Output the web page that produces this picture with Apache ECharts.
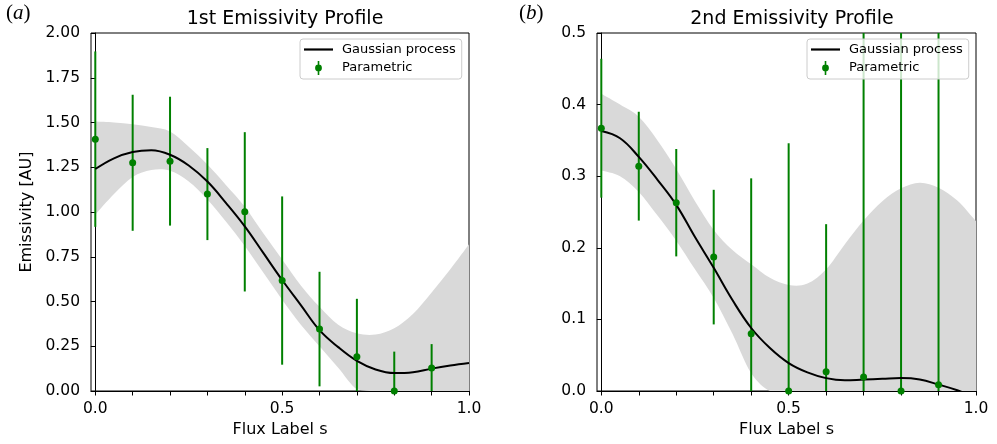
<!DOCTYPE html>
<html>
<head>
<meta charset="utf-8">
<script src="https://cdn.jsdelivr.net/npm/echarts@6/dist/echarts.min.js"></script>
<style>
html, body { margin: 0; padding: 0; background: #fff; }
#chart { width: 997px; height: 444px; }
</style>
</head>
<body>
<div id="chart"></div>
<script>
// flux label grid for the GP curves
const sGrid = [0, 0.05, 0.1, 0.15, 0.2, 0.25, 0.3, 0.35, 0.4, 0.45, 0.5,
  0.55, 0.6, 0.65, 0.7, 0.75, 0.8, 0.85, 0.9, 0.95, 1.0]
// flux labels of the parametric points
const sPts = [0, 0.1, 0.2, 0.3, 0.4, 0.5, 0.6, 0.7, 0.8, 0.9]

// 1st profile
const gpMean1 = [1.24, 1.30, 1.335, 1.345, 1.32, 1.26, 1.17, 1.05, 0.92, 0.77, 0.62,
  0.48, 0.34, 0.245, 0.168, 0.12, 0.10, 0.105, 0.125, 0.142, 0.156]
const gpUpper1 = [1.505, 1.50, 1.49, 1.475, 1.45, 1.365, 1.265, 1.15, 1.03, 0.88, 0.735,
  0.59, 0.47, 0.37, 0.322, 0.315, 0.35, 0.43, 0.55, 0.68, 0.82]
const gpLower1 = [0.985, 1.10, 1.195, 1.234, 1.23, 1.17, 1.07, 0.945, 0.81, 0.66, 0.51,
  0.37, 0.25, 0.13, 0.01, 0, 0, 0, 0, 0, 0]
const par1 = [1.407, 1.275, 1.284, 1.100, 1.001, 0.617, 0.346, 0.191, 0.0, 0.128]
const parErr1 = [0.49, 0.38, 0.36, 0.257, 0.445, 0.47, 0.32, 0.324, 0.22, 0.134]

// 2nd profile
const gpMean2 = [0.363, 0.353, 0.327, 0.295, 0.26, 0.215, 0.172, 0.127, 0.088, 0.06, 0.039,
  0.026, 0.018, 0.015, 0.016, 0.017, 0.018, 0.016, 0.009, 0.001, -0.01]
const gpUpper2 = [0.415, 0.40, 0.383, 0.35, 0.31, 0.265, 0.225, 0.197, 0.177, 0.158, 0.148,
  0.150, 0.170, 0.205, 0.238, 0.265, 0.283, 0.291, 0.284, 0.266, 0.237]
const gpLower2 = [0.308, 0.300, 0.278, 0.245, 0.21, 0.17, 0.13, 0.08, 0.025, 0, 0,
  0, 0, 0, 0, 0, 0, 0, 0, 0, 0]
const par2 = [0.367, 0.314, 0.263, 0.187, 0.080, 0.0, 0.027, 0.0195, 0.0, 0.0088]
const parErr2 = [0.097, 0.076, 0.075, 0.094, 0.217, 0.346, 0.206, 0.62, 0.75, 0.68]

const xTicks = [0, 0.1, 0.2, 0.3, 0.4, 0.5, 0.6, 0.7, 0.8, 0.9, 1.0]
const xLabels = [0, 0.5, 1.0]

const GREEN = '#008000'
const BAND = '#d9d9d9'
const FONT = 'DejaVu Sans'

const chart = echarts.init(document.getElementById('chart'))

function xAxisOpt(gridIndex) {
  return {
    type: 'value',
    gridIndex: gridIndex,
    min: -0.0115,
    max: 1.0,
    name: 'Flux Label s',
    nameLocation: 'middle',
    nameGap: 31,
    nameTextStyle: { color: '#000', fontFamily: FONT, fontSize: 16 },
    axisLine: { show: true, onZero: false, lineStyle: { color: '#000', width: 1 } },
    axisTick: { show: true, length: 4.5, customValues: xTicks, lineStyle: { color: '#000' } },
    axisLabel: {
      customValues: xLabels,
      margin: 10,
      color: '#000',
      fontFamily: FONT,
      fontSize: 15.5,
      formatter: v => v.toFixed(1)
    },
    splitLine: { show: false }
  }
}

function yAxisOpt(gridIndex, max, interval, digits, name) {
  return {
    type: 'value',
    gridIndex: gridIndex,
    min: 0,
    max: max,
    interval: interval,
    name: name,
    nameLocation: 'middle',
    nameGap: 56,
    nameTextStyle: { color: '#000', fontFamily: FONT, fontSize: 16 },
    axisLine: { show: true, lineStyle: { color: '#000', width: 1 } },
    axisTick: { show: true, length: 4.5, lineStyle: { color: '#000' } },
    axisLabel: {
      margin: 11,
      color: '#000',
      fontFamily: FONT,
      fontSize: 15.5,
      formatter: v => v.toFixed(digits)
    },
    splitLine: { show: false }
  }
}

// catmull-rom through pixel points -> bezier path commands (no leading M)
function splinePath(pts, yLimit) {
  let d = ''
  for (let i = 0; i < pts.length - 1; i++) {
    const p0 = pts[Math.max(i - 1, 0)]
    const p1 = pts[i]
    const p2 = pts[i + 1]
    const p3 = pts[Math.min(i + 2, pts.length - 1)]
    const c1x = p1[0] + (p2[0] - p0[0]) / 6
    const c1y = Math.min(p1[1] + (p2[1] - p0[1]) / 6, yLimit)
    const c2x = p2[0] - (p3[0] - p1[0]) / 6
    const c2y = Math.min(p2[1] - (p3[1] - p1[1]) / 6, yLimit)
    d += ' C' + c1x + ',' + c1y + ' ' + c2x + ',' + c2y + ' ' + p2[0] + ',' + p2[1]
  }
  return d
}

// band + mean + error bars + points for one panel
function panelSeries(idx, mean, upper, lower, pts, errs, yMax) {
  const errData = sPts.map((s, i) => [s, pts[i], errs[i]])
  return [
    {
      // confidence band, drawn as one closed path through the axis scales
      type: 'custom',
      xAxisIndex: idx,
      yAxisIndex: idx,
      data: sGrid.map((s, i) => [s, lower[i], upper[i]]),
      silent: true,
      renderItem: function (params, api) {
        if (params.dataIndexInside !== 0) return null
        const n = params.dataInsideLength
        const top = []
        const bot = []
        for (let i = 0; i < n; i++) {
          top.push(api.coord([api.value(0, i), api.value(2, i)]))
          bot.push(api.coord([api.value(0, i), api.value(1, i)]))
        }
        bot.reverse()
        const yLimit = api.coord([0, 0])[1]
        const d = 'M' + top[0][0] + ',' + top[0][1] + splinePath(top, yLimit) +
          ' L' + bot[0][0] + ',' + bot[0][1] + splinePath(bot, yLimit) + ' Z'
        return {
          type: 'path',
          shape: { pathData: d },
          style: { fill: BAND, stroke: null }
        }
      },
      z: 1
    },
    {
      name: 'Parametric',
      type: 'custom',
      xAxisIndex: idx,
      yAxisIndex: idx,
      data: errData,
      renderItem: function (params, api) {
        const x = api.value(0)
        const y = api.value(1)
        const e = api.value(2)
        const p1 = api.coord([x, Math.max(y - e, 0)])
        const p2 = api.coord([x, Math.min(y + e, yMax)])
        return {
          type: 'line',
          shape: { x1: p1[0], y1: p1[1], x2: p2[0], y2: p2[1] },
          style: { stroke: GREEN, lineWidth: 2 }
        }
      },
      z: 3
    },
    {
      name: 'Gaussian process',
      type: 'line',
      xAxisIndex: idx,
      yAxisIndex: idx,
      data: sGrid.map((s, i) => [s, mean[i]]),
      symbol: 'none',
      smooth: 0.4,
      lineStyle: { color: '#000', width: 2 },
      itemStyle: { color: '#000' },
      z: 4
    },
    {
      name: 'Parametric',
      type: 'scatter',
      xAxisIndex: idx,
      yAxisIndex: idx,
      data: sPts.map((s, i) => [s, pts[i]]),
      symbolSize: 7,
      itemStyle: { color: GREEN, opacity: 1 },
      z: 5
    }
  ]
}

const errIcon = 'path://M4.2,0 L5.8,0 L5.8,14 L4.2,14 Z M5,3.6 A3.4,3.4 0 1 1 4.99,3.6 Z'
const lineIcon = 'path://M0,0 L29,0 L29,2.2 L0,2.2 Z'

function legendOpt(left) {
  return {
    left: left,
    top: 39,
    orient: 'vertical',
    padding: [4, 6, 4, 4],
    itemWidth: 29,
    itemHeight: 14,
    itemGap: 5,
    backgroundColor: 'rgba(255,255,255,0.8)',
    borderColor: '#cccccc',
    borderWidth: 1,
    borderRadius: 3,
    selectedMode: false,
    textStyle: { color: '#000', fontFamily: FONT, fontSize: 13, padding: [0, 0, 0, 4] },
    data: [
      { name: 'Gaussian process', icon: lineIcon, itemStyle: { color: '#000' } },
      { name: 'Parametric', icon: errIcon, itemStyle: { color: GREEN } }
    ]
  }
}

const option = {
  animation: false,
  backgroundColor: '#fff',
  title: [
    {
      text: '1st Emissivity Profile',
      left: 280,
      top: 5,
      textAlign: 'center',
      textStyle: { color: '#000', fontFamily: FONT, fontSize: 19, fontWeight: 'normal' }
    },
    {
      text: '2nd Emissivity Profile',
      left: 787,
      top: 5,
      textAlign: 'center',
      textStyle: { color: '#000', fontFamily: FONT, fontSize: 19, fontWeight: 'normal' }
    }
  ],
  graphic: [
    {
      type: 'text',
      left: 6,
      top: 3,
      style: {
        text: '({i|a})',
        font: '21px "Liberation Serif"',
        fill: '#000',
        rich: { i: { fontStyle: 'italic', fontFamily: 'Liberation Serif', fontSize: 21 } }
      }
    },
    {
      type: 'text',
      left: 519,
      top: 3,
      style: {
        text: '({i|b})',
        font: '21px "Liberation Serif"',
        fill: '#000',
        rich: { i: { fontStyle: 'italic', fontFamily: 'Liberation Serif', fontSize: 21 } }
      }
    }
  ],
  grid: [
    { left: 91, top: 33, width: 378, height: 358, show: true, borderColor: '#000', borderWidth: 1, backgroundColor: 'transparent' },
    { left: 597, top: 33, width: 379, height: 358, show: true, borderColor: '#000', borderWidth: 1, backgroundColor: 'transparent' }
  ],
  legend: [legendOpt(300), legendOpt(807)],
  xAxis: [xAxisOpt(0), xAxisOpt(1)],
  yAxis: [
    yAxisOpt(0, 2.0, 0.25, 2, 'Emissivity [AU]'),
    yAxisOpt(1, 0.5, 0.1, 1, '')
  ],
  series: [
    ...panelSeries(0, gpMean1, gpUpper1, gpLower1, par1, parErr1, 2.0),
    ...panelSeries(1, gpMean2, gpUpper2, gpLower2, par2, parErr2, 0.5)
  ]
}

chart.setOption(option)
</script>
</body>
</html>
